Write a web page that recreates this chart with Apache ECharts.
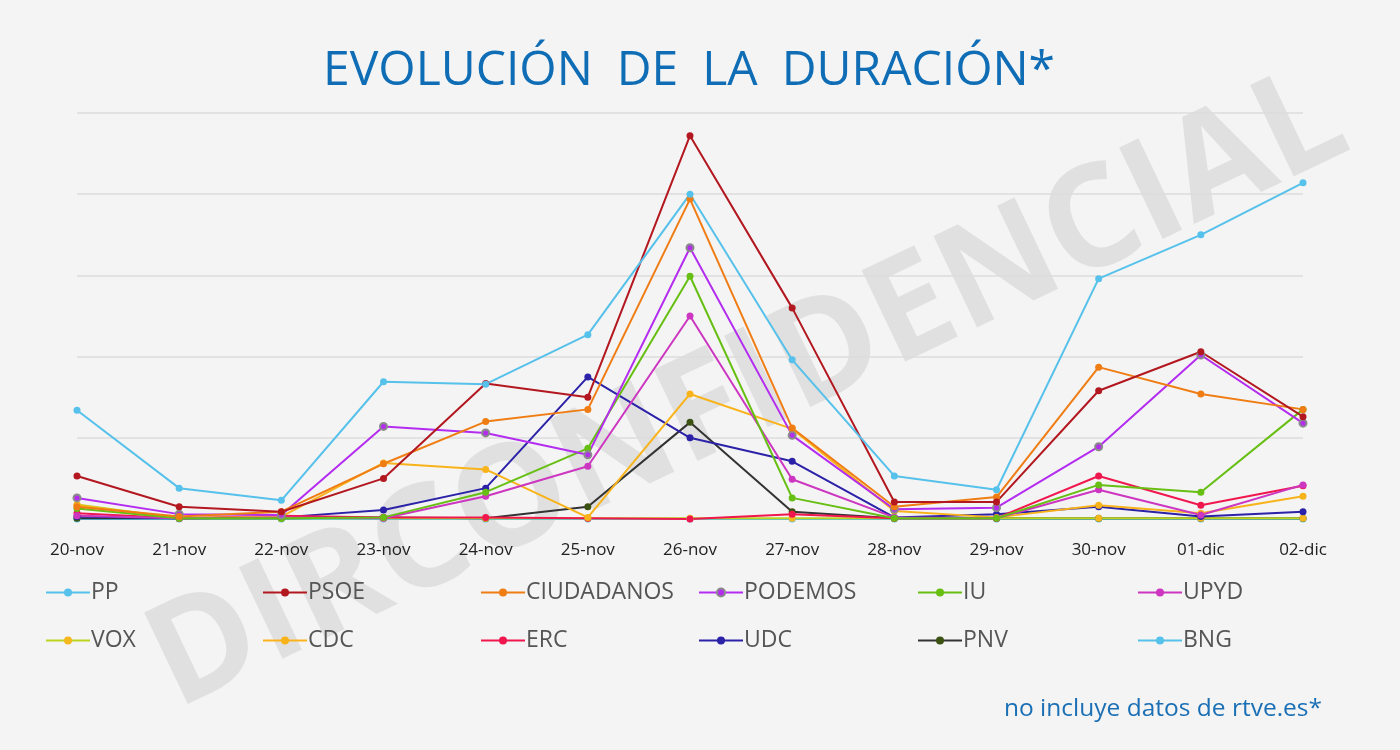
<!DOCTYPE html>
<html>
<head>
<meta charset="utf-8">
<script src="https://cdn.jsdelivr.net/npm/echarts@6/dist/echarts.min.js"></script>
<style>html,body{margin:0;padding:0;background:#f4f4f4;}#c{width:1400px;height:750px;}</style>
</head>
<body>
<div id="c"></div>
<script>
const categories = ['20-nov','21-nov','22-nov','23-nov','24-nov','25-nov','26-nov','27-nov','28-nov','29-nov','30-nov','01-dic','02-dic'];
const PP         = [1.34,0.38,0.23,1.69,1.66,2.27,4.00,1.96,0.53,0.36,2.96,3.50,4.14];
const PSOE       = [0.53,0.15,0.09,0.50,1.67,1.50,4.72,2.60,0.21,0.21,1.58,2.06,1.26];
const CIUDADANOS = [0.15,0.03,0.09,0.68,1.20,1.35,3.94,1.12,0.15,0.27,1.87,1.54,1.35];
const PODEMOS    = [0.26,0.06,0.05,1.14,1.06,0.79,3.34,1.03,0.12,0.14,0.89,2.02,1.18];
const IU         = [0.13,0.01,0.01,0.02,0.33,0.87,2.99,0.26,0.01,0.01,0.42,0.33,1.35];
const UPYD       = [0.04,0.01,0.02,0.01,0.28,0.65,2.50,0.49,0.02,0.01,0.36,0.05,0.42];
const VOX        = [0.18,0.01,0.01,0.01,0.01,0.01,0.01,0.01,0.01,0.01,0.01,0.01,0.01];
const CDC        = [0.17,0.01,0.03,0.69,0.61,0.02,1.54,1.11,0.10,0.02,0.17,0.07,0.28];
const ERC        = [0.07,0.01,0.04,0.02,0.02,0.01,0.00,0.06,0.01,0.01,0.53,0.17,0.41];
const UDC        = [0.03,0.01,0.02,0.11,0.38,1.75,1.00,0.71,0.02,0.06,0.15,0.03,0.09];
const PNV        = [0.01,0.01,0.01,0.02,0.01,0.15,1.19,0.09,0.01,0.01,0.01,0.01,0.01];
const BNG        = [0,0,0,0,0,0,0,0,0,0,0,0,0];
const legendRow1 = ['PP','PSOE','CIUDADANOS','PODEMOS','IU','UPYD'];
const legendRow2 = ['VOX','CDC','ERC','UDC','PNV','BNG'];

const seriesDefs = [
  ['BNG', BNG, '#56c1ea', '#56c1ea'],
  ['PNV', PNV, '#333333', '#3b5212'],
  ['VOX', VOX, '#bcd41e', '#f5b71e'],
  ['UDC', UDC, '#2b22a8', '#2b22a8'],
  ['ERC', ERC, '#f0174e', '#f0174e'],
  ['CDC', CDC, '#f9b31a', '#f9b31a'],
  ['UPYD', UPYD, '#cc36c0', '#cc36c0'],
  ['IU', IU, '#66bf12', '#66bf12'],
  ['PODEMOS', PODEMOS, '#b42cf0', '#b42cf0'],
  ['CIUDADANOS', CIUDADANOS, '#f07d14', '#f07d14'],
  ['PSOE', PSOE, '#b3171f', '#b3171f'],
  ['PP', PP, '#56c1ea', '#56c1ea']
];

const series = seriesDefs.map(([name, data, lc, mc]) => ({
  name, type: 'line', data,
  symbol: 'circle', symbolSize: 7,
  lineStyle: { color: lc, width: 2 },
  itemStyle: name === 'PODEMOS'
    ? { color: mc, borderColor: '#8a8a8a', borderWidth: 2 }
    : { color: mc },
  emphasis: { disabled: true },
  z: 3
}));

const slotX = [45, 262, 480, 698, 917, 1137];
const rowTop = [581, 629];
const legends = [];
[legendRow1, legendRow2].forEach((row, r) => {
  row.forEach((name, i) => {
    legends.push({
      left: slotX[i], top: rowTop[r], padding: 0,
      itemWidth: 44, itemHeight: 10, itemGap: 0,
      data: [name],
      selectedMode: false,
      textStyle: { fontFamily: 'Open Sans', fontSize: 23, color: '#555', padding: [0, 0, 0, -4] }
    });
  });
});

const chart = echarts.init(document.getElementById('c'));
chart.setOption({
  backgroundColor: '#f4f4f4',
  animation: false,
  title: {
    text: 'EVOLUCIÓN\u2002DE\u2002LA\u2002DURACIÓN*',
    left: 318, top: 42,
    textStyle: { fontFamily: 'Open Sans', fontSize: 48, fontWeight: 'normal', color: '#0f6db6' }
  },
  graphic: [
    {
      type: 'text', z: -1,
      x: 748, y: 392,
      style: {
        text: 'DIRCONFIDENCIAL', x: 0, y: 0,
        align: 'center', verticalAlign: 'middle',
        font: 'bold 142px "Open Sans"', fill: 'rgba(0,0,0,0.08)'
      },
      rotation: 25.5 * Math.PI / 180,
      silent: true
    },
    {
      type: 'text', right: 78, top: 697,
      style: { text: 'no incluye datos de rtve.es*', font: '24.5px "Open Sans"', fill: '#1a6fb5' },
      silent: true
    }
  ],
  legend: legends,
  grid: { left: 77, right: 97, top: 113, bottom: 231, containLabel: false },
  xAxis: {
    type: 'category', data: categories, boundaryGap: false,
    axisLine: { show: false }, axisTick: { show: false },
    axisLabel: { fontFamily: 'Open Sans', fontSize: 17, color: '#222', margin: 23 },
    splitLine: { show: false }
  },
  yAxis: {
    type: 'value', min: 0, max: 5, interval: 1,
    axisLabel: { show: false }, axisLine: { show: false }, axisTick: { show: false },
    splitLine: { lineStyle: { color: '#dcdcdc', width: 1.5 } }
  },
  series
});
</script>
</body>
</html>
